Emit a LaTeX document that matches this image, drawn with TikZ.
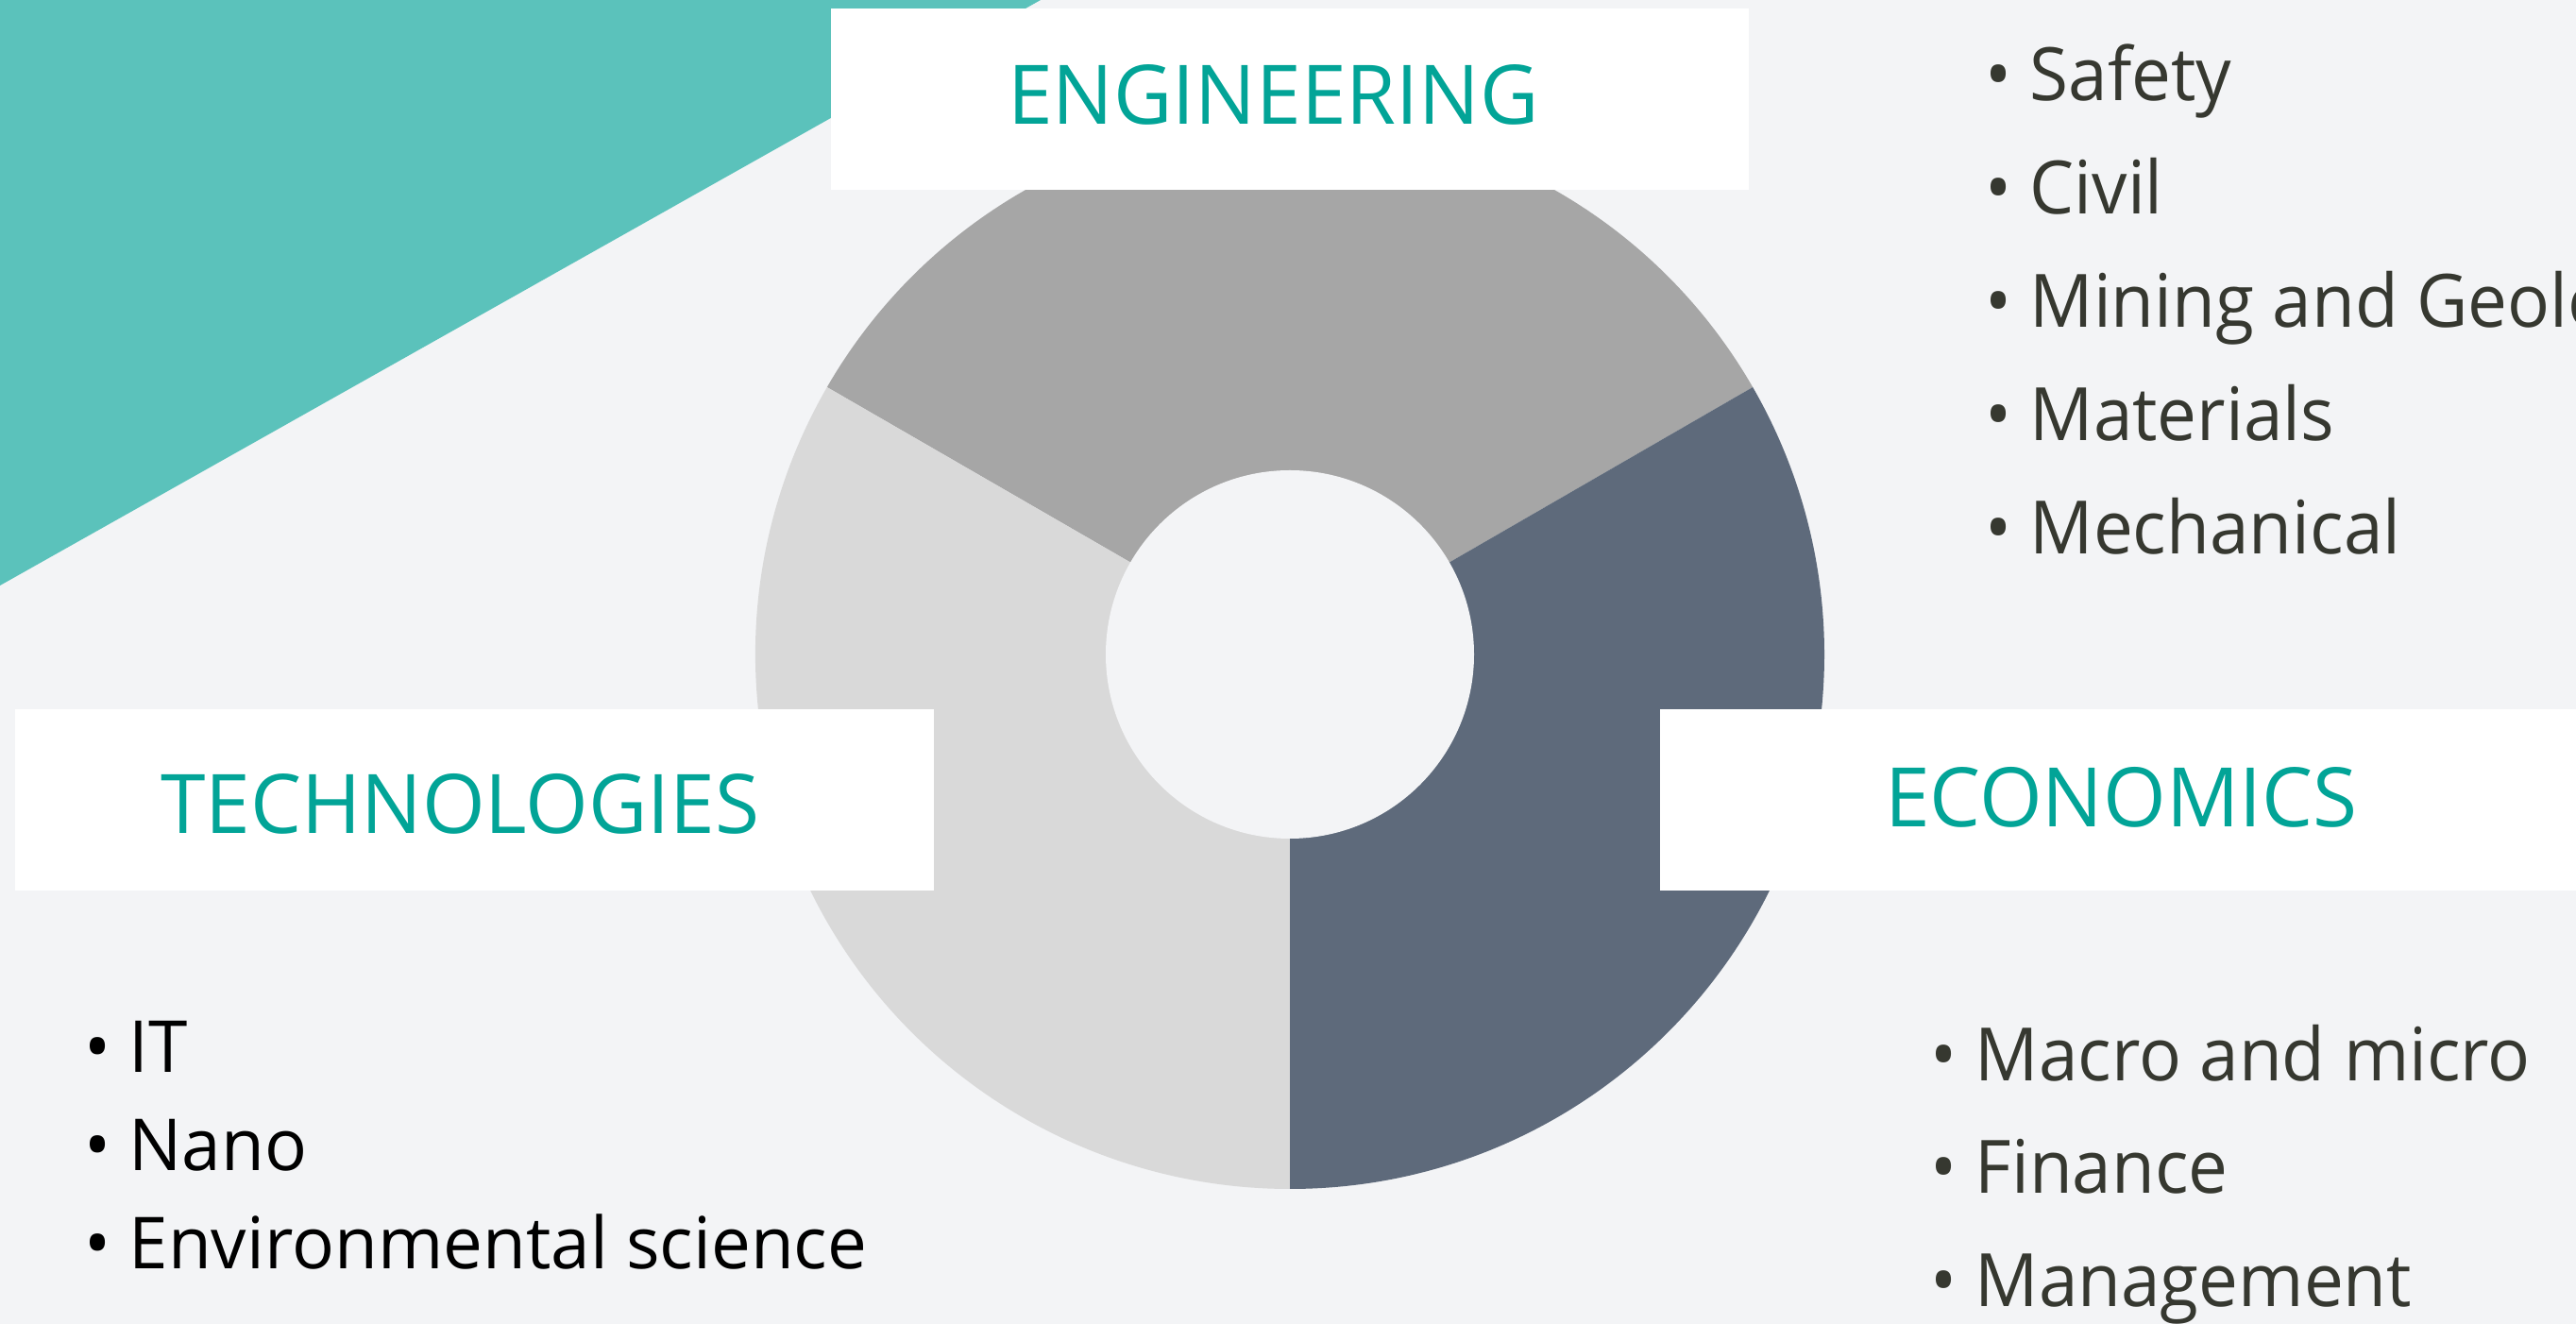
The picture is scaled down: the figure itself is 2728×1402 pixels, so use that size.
\documentclass[tikz,border=0pt]{standalone}
\usepackage{fontspec}
\setmainfont{Open Sans}
\newfontfamily\titlefont[FakeStretch=0.985]{Open Sans}
\newfontfamily\itemfont[FakeStretch=0.957]{Open Sans}
\newfontfamily\itembfont[FakeStretch=0.982]{Open Sans}
\definecolor{bgc}{HTML}{F3F4F6}
\definecolor{tealbg}{HTML}{5BC2BB}
\definecolor{tealtxt}{HTML}{02A497}
\definecolor{segtop}{HTML}{A6A6A6}
\definecolor{segleft}{HTML}{D9D9D9}
\definecolor{segright}{HTML}{5E6A7B}
\definecolor{listc}{HTML}{363830}
\tikzset{
  titletext/.style={anchor=base west, inner sep=0pt, text=tealtxt, font=\titlefont\fontsize{87pt}{100pt}\selectfont},
  itemtext/.style={anchor=base west, inner sep=0pt, text=listc, font=\itemfont\fontsize{78pt}{90pt}\selectfont},
  itemtextb/.style={anchor=base west, inner sep=0pt, text=black, font=\itembfont\fontsize{76pt}{90pt}\selectfont},
  whitebox/.style={fill=white, draw=none}
}
\begin{document}
\begin{tikzpicture}[x=1pt,y=1pt]
\useasboundingbox (0,0) rectangle (2728,1402);
\clip (0,0) rectangle (2728,1402);
\fill[bgc] (0,0) rectangle (2728,1402);
% teal corner
\fill[tealbg] (0,1402) -- (1102,1402) -- (0,782) -- cycle;
% donut
\coordinate (C) at (1366,709);
\fill[segtop] (C) -- ++(30:566) arc[start angle=30, end angle=150, radius=566] -- cycle;
\fill[segleft] (C) -- ++(150:566) arc[start angle=150, end angle=270, radius=566] -- cycle;
\fill[segright] (C) -- ++(270:566) arc[start angle=270, end angle=390, radius=566] -- cycle;
\fill[bgc] (C) circle[radius=195];
% white boxes
\fill[whitebox] (880,1201) rectangle (1852,1393);
\fill[whitebox] (16,459) rectangle (989,651);
\fill[whitebox] (1758,459) rectangle (2728,651);
% titles
\node[titletext] (eng) at (1067,1270) {ENGINEERING};
\node[titletext] (tech) at (170,519) {TECHNOLOGIES};
\node[titletext] (econ) at (1996,526) {ECONOMICS};
% engineering list
\node[itemtext] (e1) at (2102,1295) {• Safety};
\node[itemtext] (e2) at (2102,1175) {• Civil};
\node[itemtext] (e3) at (2102,1055) {• Mining and Geology};
\node[itemtext] (e4) at (2102,935) {• Materials};
\node[itemtext] (e5) at (2102,815) {• Mechanical};
% technologies list
\node[itemtextb] (t1) at (89,266) {• IT};
\node[itemtextb] (t2) at (89,162) {• Nano};
\node[itemtextb] (t3) at (89,58) {• Environmental science};
% economics list
\node[itemtext] (c1) at (2044,257) {• Macro and micro};
\node[itemtext] (c2) at (2044,138) {• Finance};
\node[itemtext] (c3) at (2044,18) {• Management};
\end{tikzpicture}
\end{document}
